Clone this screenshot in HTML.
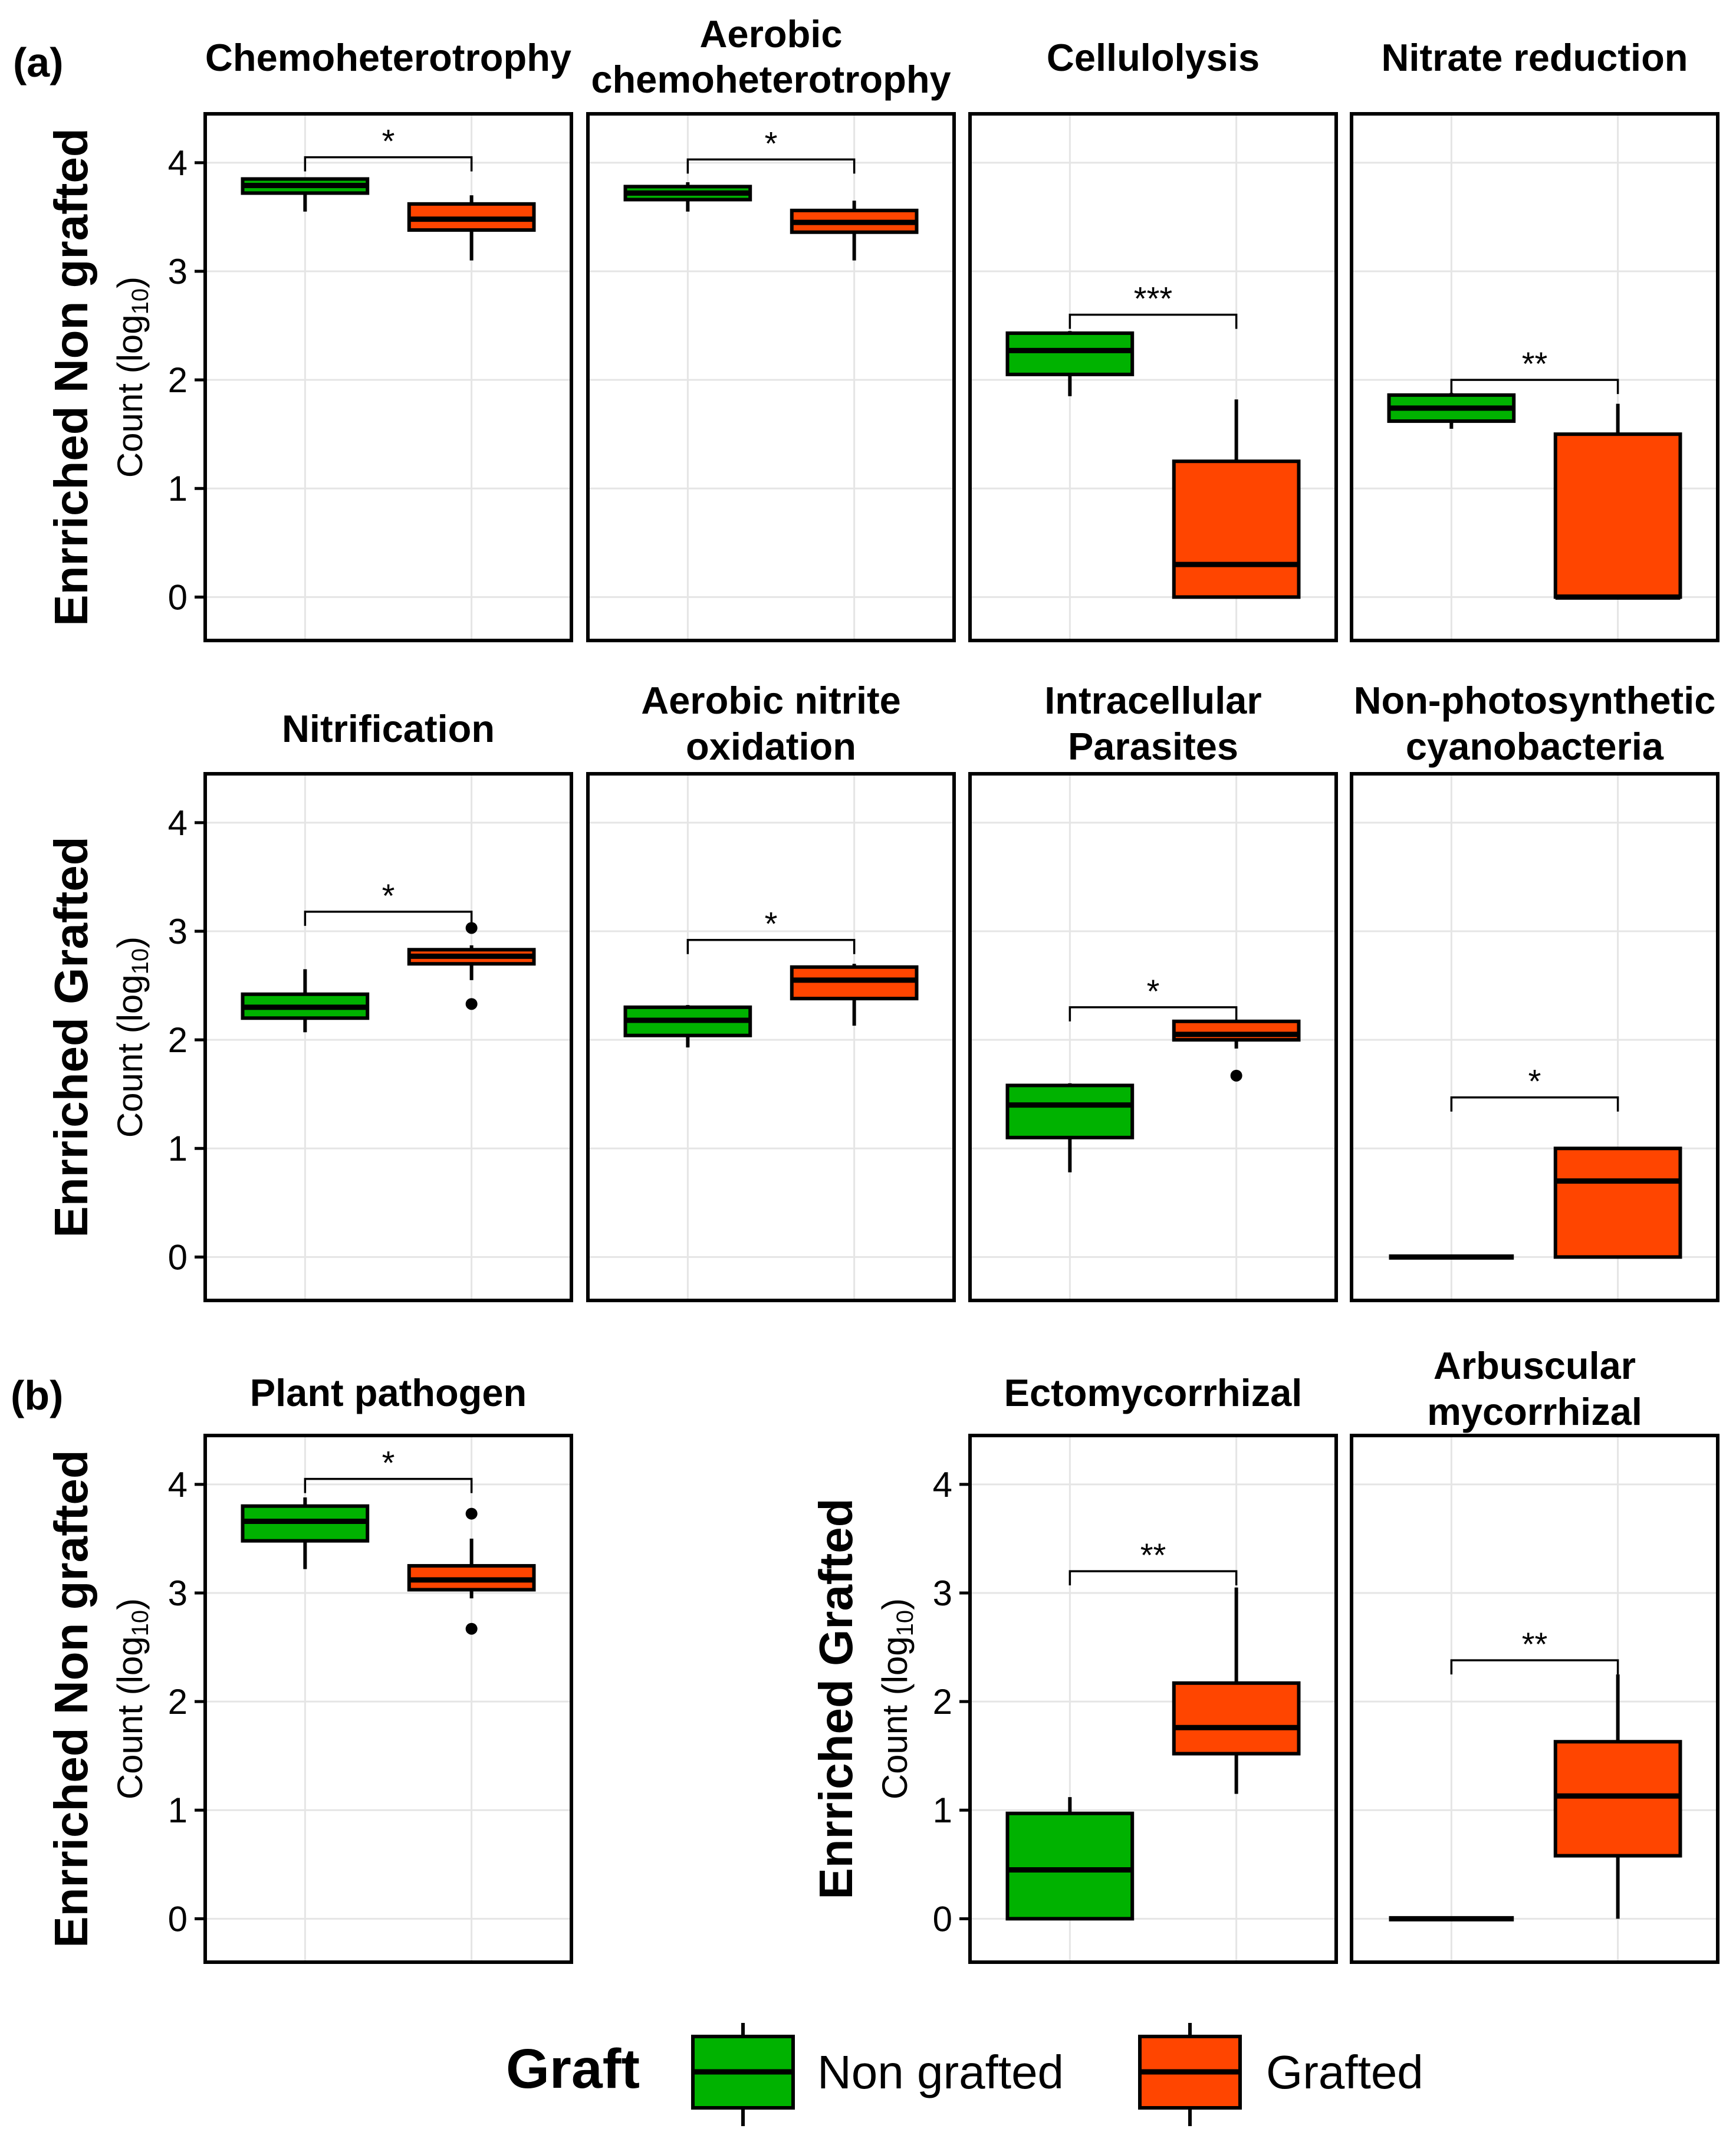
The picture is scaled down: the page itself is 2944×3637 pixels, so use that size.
<!DOCTYPE html>
<html><head><meta charset="utf-8"><style>
html,body{margin:0;padding:0;background:#fff}
svg{display:block}
text{font-family:"Liberation Sans",Arial,sans-serif;fill:#000}
</style></head><body>
<svg id="chart" width="2944" height="3637" viewBox="0 0 2944 3637" xmlns="http://www.w3.org/2000/svg"></svg>
<script>
// ---- data ----
const categories = ["Non grafted", "Grafted"];
const panelTitles = [["Chemoheterotrophy"],["Aerobic","chemoheterotrophy"],["Cellulolysis"],["Nitrate reduction"],
  ["Nitrification"],["Aerobic nitrite","oxidation"],["Intracellular","Parasites"],["Non-photosynthetic","cyanobacteria"],
  ["Plant pathogen"],["Ectomycorrhizal"],["Arbuscular","mycorrhizal"]];
// [lowWhisker, q1, median, q3, highWhisker]
const nonGraftedStats = [[3.55,3.72,3.79,3.85,3.85],[3.55,3.66,3.72,3.78,3.82],[1.85,2.05,2.27,2.43,2.45],[1.55,1.62,1.74,1.86,1.88],
  [2.07,2.2,2.3,2.42,2.65],[1.93,2.04,2.18,2.3,2.32],[0.78,1.1,1.4,1.58,1.6],[0,0,0,0,0],
  [3.22,3.48,3.66,3.8,3.88],[0,0,0.45,0.97,1.12],[0,0,0,0,0]];
const graftedStats = [[3.1,3.38,3.48,3.62,3.7],[3.1,3.36,3.45,3.56,3.65],[0,0,0.3,1.25,1.82],[0,0,0,1.5,1.78],
  [2.55,2.7,2.77,2.83,2.87],[2.13,2.38,2.55,2.67,2.7],[1.92,2.0,2.05,2.17,2.17],[0,0,0.7,1.0,1.0],
  [2.95,3.03,3.12,3.25,3.5],[1.15,1.52,1.76,2.17,3.05],[0,0.58,1.13,1.63,2.25]];
const nonGraftedOutliers = [[],[],[],[],[],[],[],[],[],[],[]];
const graftedOutliers = [[],[],[],[],[3.03,2.33],[],[1.67],[],[3.73,2.67],[],[]];
const bracketLevels = [4.05,4.03,2.6,2.0,3.18,2.92,2.3,1.47,4.05,3.2,2.38];
const sigLabels = ["*","*","***","**","*","*","*","*","*","**","**"];
const yTicks = [0,1,2,3,4];
const yDomain = [-0.4, 4.45];

// ---- layout ----
const colX = [348, 997, 1645, 2292], PW = 621, PH = 893;
const rowY = [193, 1312, 2434];
const panelPos = [[0,0],[1,0],[2,0],[3,0],[0,1],[1,1],[2,1],[3,1],[0,2],[2,2],[3,2]];
const GREEN = "#00B200", ORANGE = "#FF4500";
const svg = document.getElementById('chart');
const NS = "http://www.w3.org/2000/svg";
function mk(tag, attrs, parent){const e=document.createElementNS(NS,tag);for(const k in attrs)e.setAttribute(k,attrs[k]);(parent||svg).appendChild(e);return e;}

panelPos.forEach((p, i) => {
  const x0 = colX[p[0]], y0 = rowY[p[1]];
  const g = mk('g', {});
  
  
  const yS = v => y0 + (yDomain[1] - v) / (yDomain[1] - yDomain[0]) * PH;
  const xS = c => x0 + (c + 1 - 0.4) / 2.2 * PW;
  const half = 0.375 / 2.2 * PW;
  yTicks.forEach(t => { const l = mk('line',{x1:x0,x2:x0+PW,y1:yS(t),y2:yS(t),stroke:'#E5E5E5','stroke-width':3},g);
      });
  categories.forEach((c,ci)=>{ const l=mk('line',{x1:xS(ci),x2:xS(ci),y1:y0,y2:y0+PH,stroke:'#E5E5E5','stroke-width':3},g);
      });
  [nonGraftedStats[i], graftedStats[i]].forEach((s, ci) => {
    const cx = xS(ci), col = ci ? ORANGE : GREEN;
    const bg = mk('g', {}, g);
    
    
    mk('line',{x1:cx,x2:cx,y1:yS(s[0]),y2:yS(s[4]),stroke:'#000','stroke-width':6},bg);
    mk('rect',{x:cx-half,y:yS(s[3]),width:2*half,height:Math.max(0,yS(s[1])-yS(s[3])),fill:col,stroke:'#000','stroke-width':6},bg);
    mk('line',{x1:cx-half,x2:cx+half,y1:yS(s[2]),y2:yS(s[2]),stroke:'#000','stroke-width':9},bg);
    (ci ? graftedOutliers[i] : nonGraftedOutliers[i]).forEach(o => {
      const c = mk('circle',{cx:cx,cy:yS(o),r:10,fill:'#000'},bg);
       
    });
  });
  const by = yS(bracketLevels[i]);
  const br = mk('path',{d:`M${xS(0)},${by+24} V${by} H${xS(1)} V${by+24}`,fill:'none',stroke:'#000','stroke-width':3.5},g);
   
  const st = mk('text',{x:(xS(0)+xS(1))/2,y:by-8,'text-anchor':'middle','font-size':56},g);
  st.textContent = sigLabels[i];
   
  const b = mk('rect',{x:x0,y:y0,width:PW,height:PH,fill:'none',stroke:'#000','stroke-width':6},g);
   
  const t = panelTitles[i];
  const bl = t.length === 1 ? [[120],[1258],[2384]][p[1]] : [[80,157],[1210,1288],[2338,2416]][p[1]];
  t.forEach((line, li) => {
    const tt = mk('text',{x:x0+PW/2,y:bl[li],'text-anchor':'middle','font-size':65,'font-weight':'bold'},g);
    tt.textContent = line;
     
  });
  if (p[0] === 0 || i === 9) {
    yTicks.forEach(tv => {
      mk('line',{x1:x0-18,x2:x0,y1:yS(tv),y2:yS(tv),stroke:'#000','stroke-width':5},g);
      const tl = mk('text',{x:x0-30,y:yS(tv)+21,'text-anchor':'end','font-size':60},g);
      tl.textContent = tv;
       
    });
    const cy = y0 + PH/2;
    const cl = mk('text',{x:0,y:0,'text-anchor':'middle','font-size':60,transform:`translate(${x0-107},${cy}) rotate(-90)`},g);
    cl.innerHTML = 'Count (log<tspan font-size="40" dy="10">10</tspan><tspan dy="-10">)</tspan>';
     
    const rl = mk('text',{x:0,y:0,'text-anchor':'middle','font-size':80,'font-weight':'bold',transform:`translate(${x0-200},${cy}) rotate(-90)`},g);
    rl.textContent = (p[1] === 1 || i >= 9) ? 'Enrriched Grafted' : 'Enrriched Non grafted';
     
  }
});
[['(a)',22,130],['(b)',18,2390]].forEach(a=>{
  const t=mk('text',{x:a[1],y:a[2],'font-size':70,'font-weight':'bold'});
  t.textContent=a[0];
   
});
const lg = mk('g',{});
 
const lt = mk('text',{x:858,y:3540,'font-size':95,'font-weight':'bold'},lg);
lt.textContent='Graft';
 
[[1175,GREEN,1386],[1933,ORANGE,2147]].forEach((k,ki)=>{
  const e = mk('g',{},lg);
  
  
  const cx=k[0]+85;
  mk('line',{x1:cx,x2:cx,y1:3430,y2:3605,stroke:'#000','stroke-width':6},e);
  mk('rect',{x:k[0],y:3453,width:170,height:121,fill:k[1],stroke:'#000','stroke-width':6},e);
  mk('line',{x1:k[0],x2:k[0]+170,y1:3513,y2:3513,stroke:'#000','stroke-width':9},e);
  const tx=mk('text',{x:k[2],y:3541,'font-size':80},e);
  tx.textContent=categories[ki];
});
</script>
</body></html>
